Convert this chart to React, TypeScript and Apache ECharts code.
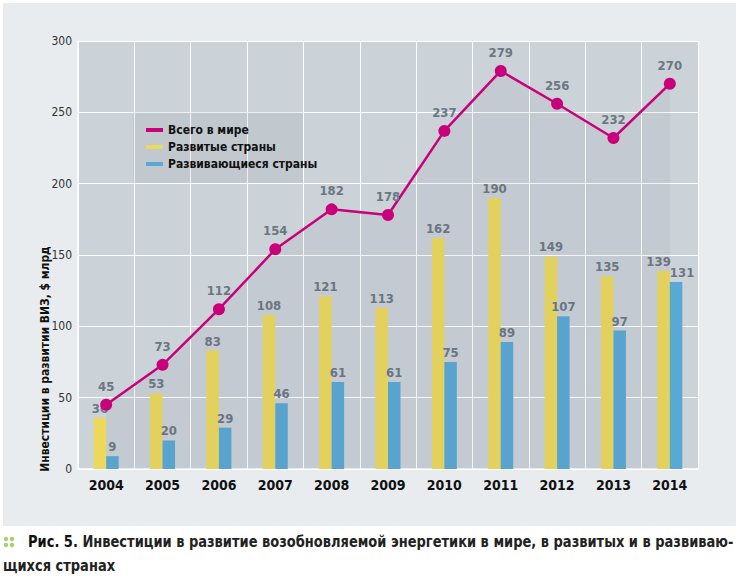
import React, { useEffect, useRef } from "react";
import * as echarts from "echarts";

const years = ["2004", "2005", "2006", "2007", "2008", "2009", "2010", "2011", "2012", "2013", "2014"];
const world = [45, 73, 112, 154, 182, 178, 237, 279, 256, 232, 270];
const developed = [36, 53, 83, 108, 121, 113, 162, 190, 149, 135, 139];
const developing = [9, 20, 29, 46, 61, 61, 75, 89, 107, 97, 131];
const seriesNames = ["Всего в мире", "Развитые страны", "Развивающиеся страны"];
const yAxisTitle = "Инвестиции в развитии ВИЗ, $ млрд";
const captionBold = "Рис. 5.";
const captionLine1 = " Инвестиции в развитие возобновляемой энергетики в мире, в развитых и в развиваю-";
const captionLine2 = "щихся странах";

const FONT = "'DejaVu Sans Condensed', 'Liberation Sans Narrow', 'Roboto', sans-serif";
const LABEL_COLOR = "#6b7783";

export default function App() {
  const ref = useRef<HTMLDivElement>(null);
  useEffect(() => {
    if (!ref.current) return;
    const chart = echarts.init(ref.current, undefined, { renderer: "svg" });
    const labelStyle = {
      show: true,
      position: "top" as const,
      color: LABEL_COLOR,
      fontWeight: "bold" as const,
      fontSize: 13,
      fontFamily: FONT,
      distance: 3,
    };
    const last = years.length - 1;
    const developedData = developed.map((v, i) =>
      i === last ? { value: v, label: { offset: [-5, 0] } } : v
    );
    const developingData = developing.map((v, i) =>
      i === last ? { value: v, label: { offset: [6, 0] } } : v
    );
    chart.setOption({
      animation: false,
      backgroundColor: "#ffffff",
      textStyle: { fontFamily: FONT },
      grid: {
        left: 78,
        top: 41,
        width: 620,
        height: 428,
        show: true,
        backgroundColor: "#cbd2d8",
        borderWidth: 0,
      },
      legend: {
        data: seriesNames,
        orient: "vertical",
        left: 146,
        top: 124,
        icon: "rect",
        itemWidth: 17,
        itemHeight: 4,
        itemGap: 5,
        padding: 0,
        textStyle: { color: "#111", fontWeight: "bold", fontSize: 12, fontFamily: FONT },
      },
      xAxis: {
        type: "category",
        data: years,
        boundaryGap: true,
        axisLine: { show: true, lineStyle: { color: "#ffffff", width: 1.5 } },
        axisTick: { show: false },
        splitLine: { show: true, lineStyle: { color: "#ffffff", width: 1 } },
        axisLabel: { color: "#111", fontWeight: "bold", fontSize: 14, fontFamily: FONT, margin: 9 },
      },
      yAxis: {
        type: "value",
        min: 0,
        max: 300,
        interval: 50,
        axisLine: { show: true, lineStyle: { color: "#ffffff", width: 1.5 } },
        axisTick: { show: false },
        splitLine: { show: true, lineStyle: { color: "#ffffff", width: 1 } },
        axisLabel: { color: "#333", fontSize: 12, fontFamily: FONT, margin: 6 },
      },
      graphic: [
        {
          type: "rect",
          z: -10,
          shape: { x: 3, y: 3, width: 733, height: 523 },
          style: { fill: "#e8ecef" },
        },
        {
          type: "rect",
          z: 1,
          shape: { x: 133, y: 112, width: 170, height: 71 },
          style: { fill: "rgba(120,130,140,0.12)" },
        },
        {
          type: "text",
          x: 44,
          y: 359,
          rotation: Math.PI / 2,
          scaleX: 0.92,
          style: {
            text: yAxisTitle,
            fill: "#111",
            font: `bold 13px ${FONT}`,
            textAlign: "center",
            textVerticalAlign: "middle",
          },
        },
        { type: "circle", shape: { cx: 6, cy: 539, r: 2.2 }, style: { fill: "#a3d46c" } },
        { type: "circle", shape: { cx: 12, cy: 539, r: 2.2 }, style: { fill: "#a3d46c" } },
        { type: "circle", shape: { cx: 6, cy: 545, r: 2.2 }, style: { fill: "#a3d46c" } },
        { type: "circle", shape: { cx: 12, cy: 545, r: 2.2 }, style: { fill: "#a3d46c" } },
        {
          type: "text",
          x: 28,
          y: 542,
          scaleX: 0.905,
          style: {
            text: `{a|${captionBold}}{b|${captionLine1}}`,
            textVerticalAlign: "middle",
            rich: {
              a: { fill: "#111", font: `bold 16px ${FONT}` },
              b: { fill: "#222", font: `bold 16px ${FONT}` },
            },
          },
        },
        {
          type: "text",
          x: 3,
          y: 566,
          scaleX: 0.905,
          style: {
            text: captionLine2,
            fill: "#222",
            font: `bold 16px ${FONT}`,
            textVerticalAlign: "middle",
          },
        },
      ],
      series: [
        {
          name: seriesNames[1],
          type: "bar",
          data: developedData,
          barWidth: 12.5,
          barGap: "0%",
          itemStyle: { color: "#ecd95c" },
          label: labelStyle,
          z: 3,
        },
        {
          name: seriesNames[2],
          type: "bar",
          data: developingData,
          barWidth: 12.5,
          barGap: "0%",
          itemStyle: { color: "#59a9d6" },
          label: labelStyle,
          z: 3,
        },
        {
          name: seriesNames[0],
          type: "line",
          data: world,
          symbol: "circle",
          symbolSize: 12,
          lineStyle: { color: "#c8007a", width: 2.5 },
          itemStyle: { color: "#c8007a" },
          areaStyle: { color: "rgba(90,100,110,0.09)", origin: "start" },
          label: { ...labelStyle, distance: 6 },
          z: 5,
        },
      ],
    });
    return () => chart.dispose();
  }, []);
  return (
    <div
      ref={ref}
      style={{ position: "fixed", left: 0, top: 0, width: 746, height: 588 }}
    />
  );
}
